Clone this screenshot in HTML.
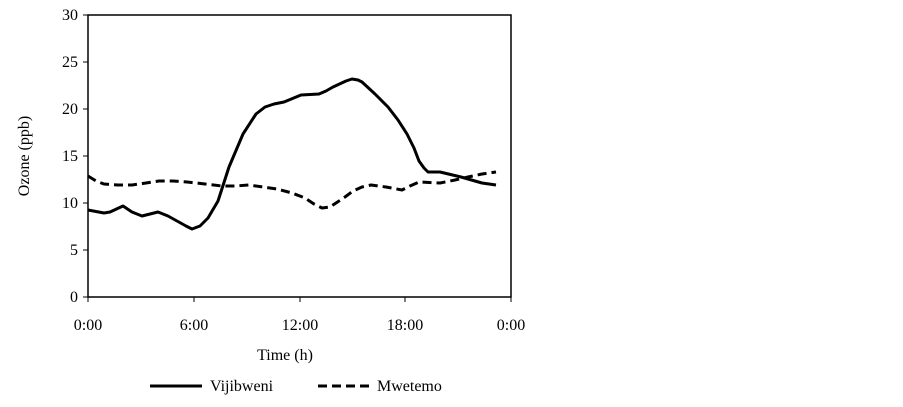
<!DOCTYPE html>
<html><head><style>body{margin:0;background:#fff}</style></head><body>
<svg width="903" height="402" xmlns="http://www.w3.org/2000/svg" font-family="Liberation Serif, serif" font-size="16">
<rect width="903" height="402" fill="#fff"/>
<rect x="88" y="15" width="423" height="282" fill="none" stroke="#000" stroke-width="1.5"/>
<g stroke="#000" stroke-width="1">
<line x1="83" y1="15" x2="88" y2="15"/><line x1="83" y1="62" x2="88" y2="62"/><line x1="83" y1="109" x2="88" y2="109"/><line x1="83" y1="156" x2="88" y2="156"/><line x1="83" y1="203" x2="88" y2="203"/><line x1="83" y1="250" x2="88" y2="250"/><line x1="83" y1="297" x2="88" y2="297"/>
<line x1="88" y1="297" x2="88" y2="302"/><line x1="194" y1="297" x2="194" y2="302"/><line x1="300" y1="297" x2="300" y2="302"/><line x1="405" y1="297" x2="405" y2="302"/><line x1="511" y1="297" x2="511" y2="302"/>
</g>
<g text-anchor="end">
<text x="78" y="20">30</text><text x="78" y="67">25</text><text x="78" y="114">20</text><text x="78" y="161">15</text><text x="78" y="208">10</text><text x="78" y="255">5</text><text x="78" y="302">0</text>
</g>
<g text-anchor="middle">
<text x="88" y="330">0:00</text><text x="194" y="330">6:00</text><text x="300" y="330">12:00</text><text x="405" y="330">18:00</text><text x="511" y="330">0:00</text>
<text x="285" y="360">Time (h)</text>
<text transform="translate(29,156) rotate(-90)">Ozone (ppb)</text>
</g>
<polyline fill="none" stroke="#000" stroke-width="3" stroke-linejoin="round" points="88,210 104,213 110,212 123,206 132,212 142,216 150,214 158,212 168,216 177,221 186,226 192,229 200,226 208,218 218,201 229,167 243,134 256,114 265,107 274,104 284,102 301,95 319,94 326,91 333,87 346,81 352,79 358,80 362,82 375,94 388,107 398,120 407,134 414,148 419,161 424,168 428,172 440,172 461,177 482,183 496,185"/>
<polyline fill="none" stroke="#000" stroke-width="3" stroke-dasharray="9,5" stroke-linejoin="round" points="88,176 96,181 104,184 118,185 132,185 146,183 159,181 173,181 187,182 205,184 222,186 235,186 249,185 263,187 277,189 292,193 305,198 314,204 322,208 330,207 336,203 345,197 353,191 362,187 371,185 386,187 402,190 410,186 419,182 440,183 455,180 468,177 482,174 496,172"/>
<line x1="150" y1="386" x2="202" y2="386" stroke="#000" stroke-width="3"/>
<text x="210" y="391">Vijibweni</text>
<line x1="318" y1="386" x2="372" y2="386" stroke="#000" stroke-width="3" stroke-dasharray="9,5"/>
<text x="377" y="391">Mwetemo</text>
</svg>
</body></html>
